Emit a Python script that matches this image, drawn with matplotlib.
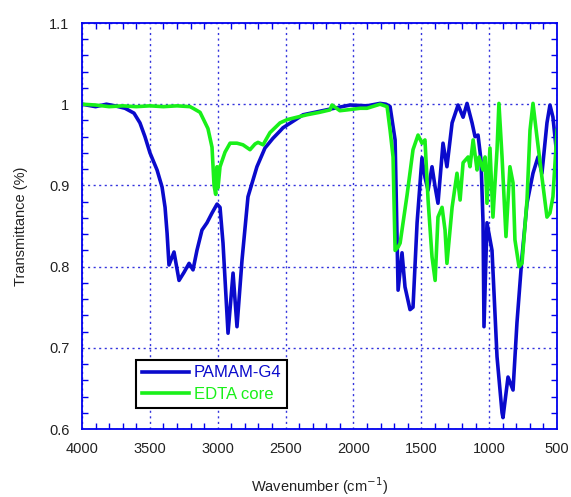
import matplotlib
matplotlib.use('Agg')
import matplotlib.pyplot as plt
from matplotlib.ticker import MultipleLocator, FormatStrFormatter

plt.rcParams['font.family'] = ['Liberation Sans', 'DejaVu Sans']

# PAMAM-G4 spectrum (wavenumber, transmittance)
pamam_wn = [4000, 3900, 3820, 3757, 3683, 3617, 3573, 3536, 3499, 3447, 3410, 3388,
            3373, 3359, 3322, 3285, 3248, 3211, 3182, 3153, 3116, 3079, 3042, 3005,
            2983, 2961, 2924, 2887, 2858, 2821, 2777, 2711, 2652, 2593, 2541, 2519,
            2408, 2371, 2200, 2025, 1900, 1804, 1760, 1730, 1693, 1671, 1642, 1620,
            1583, 1561, 1531, 1495, 1473, 1450, 1421, 1398, 1377, 1340, 1311, 1273,
            1229, 1214, 1192, 1163, 1126, 1104, 1082, 1060, 1045, 1038, 1016, 979,
            942, 905, 898, 861, 824, 795, 758, 721, 677, 640, 611, 574, 552, 530, 500]
pamam_t = [1.0, 0.997, 1.0, 0.998, 0.995, 0.989, 0.977, 0.960, 0.940, 0.919, 0.898, 0.873,
           0.841, 0.802, 0.818, 0.783, 0.793, 0.804, 0.796, 0.820, 0.845, 0.854, 0.866, 0.877,
           0.873, 0.829, 0.718, 0.792, 0.726, 0.808, 0.886, 0.923, 0.946, 0.958, 0.967, 0.971,
           0.983, 0.987, 0.993, 0.999, 0.998, 1.001, 1.0, 0.997, 0.956, 0.771, 0.817, 0.775,
           0.747, 0.750, 0.854, 0.934, 0.910, 0.894, 0.923, 0.898, 0.878, 0.952, 0.923, 0.977,
           0.999, 0.993, 0.984, 1.001, 0.977, 0.960, 0.962, 0.931, 0.854, 0.726, 0.854, 0.820,
           0.689, 0.620, 0.614, 0.664, 0.648, 0.731, 0.812, 0.878, 0.915, 0.935, 0.915, 0.977,
           0.999, 0.984, 0.935]

# EDTA core spectrum
edta_wn = [4000, 3900, 3800, 3700, 3600, 3500, 3400, 3300, 3204, 3182, 3130, 3072,
           3042, 3027, 3015, 3005, 2998, 2983, 2946, 2909, 2858, 2814, 2762, 2725,
           2703, 2666, 2615, 2541, 2489, 2416, 2342, 2250, 2173, 2158, 2100, 2047,
           1950, 1900, 1804, 1752, 1730, 1708, 1693, 1671, 1656, 1605, 1561, 1524,
           1495, 1473, 1450, 1421, 1398, 1377, 1347, 1325, 1311, 1273, 1237, 1214,
           1192, 1155, 1141, 1118, 1089, 1075, 1045, 1030, 1016, 994, 972, 942, 928,
           905, 876, 847, 824, 810, 780, 758, 721, 699, 677, 648, 611, 574, 552, 530, 500]
edta_t = [1.0, 0.999, 0.997, 0.998, 0.997, 0.998, 0.997, 0.998, 0.997, 0.995, 0.990, 0.970,
          0.947, 0.900, 0.889, 0.923, 0.897, 0.923, 0.941, 0.952, 0.952, 0.950, 0.944, 0.951,
          0.953, 0.950, 0.965, 0.977, 0.981, 0.984, 0.987, 0.990, 0.993, 0.999, 0.992, 0.993,
          0.995, 0.995, 1.0, 0.997, 0.968, 0.935, 0.820, 0.824, 0.829, 0.888, 0.944, 0.962,
          0.952, 0.956, 0.882, 0.812, 0.783, 0.861, 0.873, 0.845, 0.804, 0.873, 0.915, 0.882,
          0.928, 0.935, 0.923, 0.956, 0.919, 0.935, 0.919, 0.935, 0.878, 0.946, 0.861, 0.944,
          1.001, 0.935, 0.837, 0.923, 0.903, 0.833, 0.800, 0.804, 0.882, 0.968, 1.001, 0.960,
          0.910, 0.861, 0.866, 0.886, 0.968]

blue = '#0A0ACC'
green = '#19F019'

fig = plt.figure(figsize=(5.71, 4.97), dpi=100)
ax = fig.add_axes([0.1436, 0.1368, 0.8319, 0.8169])

ax.plot(pamam_wn, pamam_t, color=blue, lw=2.6, label='PAMAM-G4')
ax.plot(edta_wn, edta_t, color=green, lw=2.6, label='EDTA core')

ax.set_xlim(4000, 500)
ax.set_ylim(0.6, 1.1)
ax.xaxis.set_major_locator(MultipleLocator(500))
ax.xaxis.set_minor_locator(MultipleLocator(100))
ax.yaxis.set_major_locator(MultipleLocator(0.1))
ax.yaxis.set_minor_locator(MultipleLocator(0.02))
ax.yaxis.set_major_formatter(FormatStrFormatter('%g'))

for s in ax.spines.values():
    s.set_color('#0000EE')
    s.set_linewidth(1.3)
ax.tick_params(which='both', direction='in', top=True, right=True,
               color='#0000EE', labelsize=10.5, labelcolor='#222222')
ax.tick_params(which='major', length=0, pad=9)
ax.tick_params(which='minor', length=4, width=1)
ax.grid(which='major', color='#3333DD', linestyle=(0, (1.5, 2.5)), lw=1)

ax.set_xlabel('Wavenumber (cm$^{-1}$)', fontsize=10.5, color='#222222', labelpad=14)
ax.set_ylabel('Transmittance (%)', fontsize=10.5, color='#222222', labelpad=15)

leg = ax.legend(loc='lower left', bbox_to_anchor=(0.114, 0.052), borderaxespad=0,
                fancybox=False, framealpha=1, edgecolor='black', fontsize=12,
                handlelength=2.8, handletextpad=0.3, borderpad=0.35, labelspacing=0.4)
leg.get_frame().set_linewidth(1.5)
for txt, c in zip(leg.get_texts(), [blue, green]):
    txt.set_color(c)

fig.savefig('out.png', dpi=100)
